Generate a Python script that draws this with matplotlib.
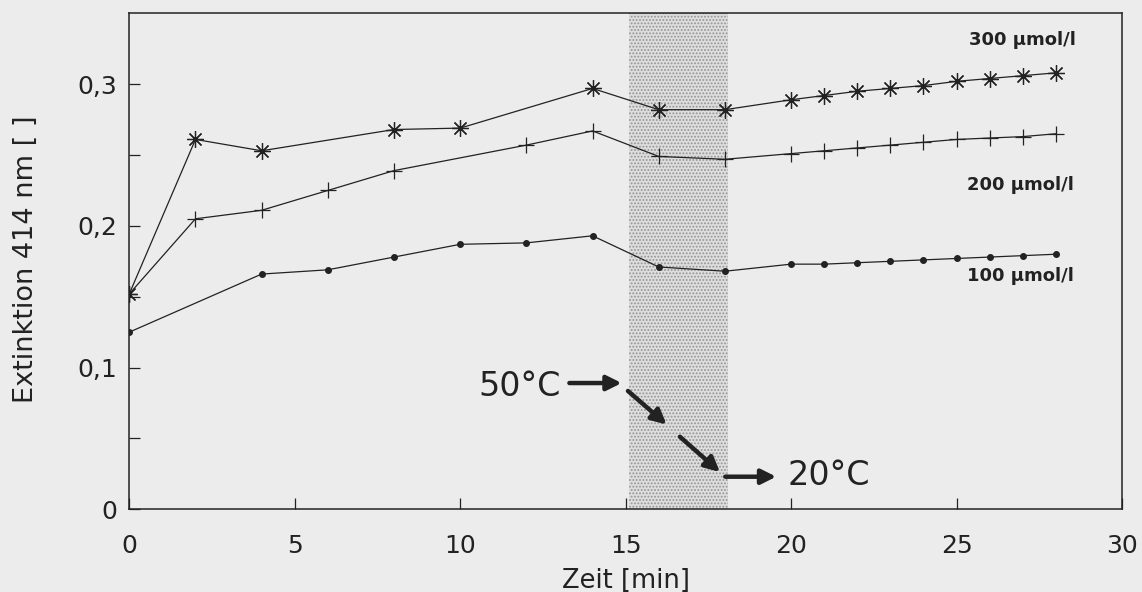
import numpy as np
import matplotlib
matplotlib.use('Agg')
import matplotlib.pyplot as plt
from matplotlib.ticker import FixedLocator, FixedFormatter

# series (time in min, extinction)
t300 = [0, 2, 4, 8, 10, 14, 16, 18, 20, 21, 22, 23, 24, 25, 26, 27, 28]
e300 = [0.152, 0.261, 0.253, 0.268, 0.269, 0.297, 0.282, 0.282, 0.289,
        0.292, 0.295, 0.297, 0.299, 0.302, 0.304, 0.306, 0.308]

t200 = [0, 2, 4, 6, 8, 12, 14, 16, 18, 20, 21, 22, 23, 24, 25, 26, 27, 28]
e200 = [0.152, 0.205, 0.211, 0.225, 0.239, 0.257, 0.267, 0.249, 0.247,
        0.251, 0.253, 0.255, 0.257, 0.259, 0.261, 0.262, 0.263, 0.265]

t100 = [0, 4, 6, 8, 10, 12, 14, 16, 18, 20, 21, 22, 23, 24, 25, 26, 27, 28]
e100 = [0.125, 0.166, 0.169, 0.178, 0.187, 0.188, 0.193, 0.171, 0.168,
        0.173, 0.173, 0.174, 0.175, 0.176, 0.177, 0.178, 0.179, 0.180]

series_labels = ['300 µmol/l', '200 µmol/l', '100 µmol/l']
xticks = [0, 5, 10, 15, 20, 25, 30]
yticks = [0, 0.1, 0.2, 0.3]
yticklabels = ['0', '0,1', '0,2', '0,3']
yminor = [0.05, 0.15, 0.25]
cooling = (15.1, 18.1)

paper = '#ececec'
ink = '#222222'

# wide sans to get close to the spaced-out lettering of the print
plt.rcParams['font.family'] = ['DejaVu Sans']
plt.rcParams['hatch.linewidth'] = 0.9

fig = plt.figure(figsize=(11.42, 5.92), dpi=100, facecolor=paper)
ax = fig.add_axes([0.1132, 0.1397, 0.8693, 0.8378], facecolor=paper)

# shaded cooling interval
ax.axvspan(cooling[0], cooling[1], facecolor='#dedede', edgecolor='#949494',
           hatch='.....', linewidth=0, zorder=0)

ax.plot(t300, e300, color=ink, lw=0.9, marker=(8, 2, 0), ms=12, mew=0.9)
ax.plot(t200, e200, color=ink, lw=0.9, marker='+', ms=11, mew=0.9)
ax.plot(t100, e100, color=ink, lw=0.9, marker='o', ms=4)

lab_kw = dict(ha='right', va='center', fontsize=13, fontweight='semibold', color=ink)
ax.text(28.6, 0.331, series_labels[0], **lab_kw)
ax.text(28.55, 0.229, series_labels[1], **lab_kw)
ax.text(28.55, 0.1646, series_labels[2], **lab_kw)

# temperature arrows
arrow = dict(arrowstyle='-|>', lw=3.2, color=ink, mutation_scale=22, shrinkA=0, shrinkB=0)
ax.text(13.03, 0.087, '50°C', ha='right', va='center', fontsize=24, color=ink)
ax.annotate('', xy=(14.88, 0.0891), xytext=(13.3, 0.0891), arrowprops=arrow)
ax.annotate('', xy=(16.24, 0.0598), xytext=(15.07, 0.0835), arrowprops=arrow)
ax.annotate('', xy=(17.85, 0.0263), xytext=(16.64, 0.0512), arrowprops=arrow)
ax.annotate('', xy=(19.55, 0.0230), xytext=(18.01, 0.0230), arrowprops=arrow)
ax.text(19.89, 0.0235, '20°C', ha='left', va='center', fontsize=24, color=ink)

ax.set_xlim(0, 30)
ax.set_ylim(0, 0.35)
ax.xaxis.set_major_locator(FixedLocator(xticks))
ax.yaxis.set_major_locator(FixedLocator(yticks))
ax.yaxis.set_major_formatter(FixedFormatter(yticklabels))
ax.yaxis.set_minor_locator(FixedLocator(yminor))

ax.tick_params(axis='both', which='both', direction='in', length=8.2, width=0.9,
               colors=ink, labelsize=18)
ax.tick_params(axis='x', pad=18)
ax.tick_params(axis='y', pad=9)

for s in ax.spines.values():
    s.set_linewidth(1.1)
    s.set_color(ink)

ax.set_xlabel('Zeit [min]', fontsize=18.5, color=ink, labelpad=7)
ax.set_ylabel('Extinktion 414 nm [ ]', fontsize=19.5, color=ink)
ax.yaxis.set_label_coords(-0.091, 0.505)

fig.savefig('out.png', dpi=100, facecolor=paper)
